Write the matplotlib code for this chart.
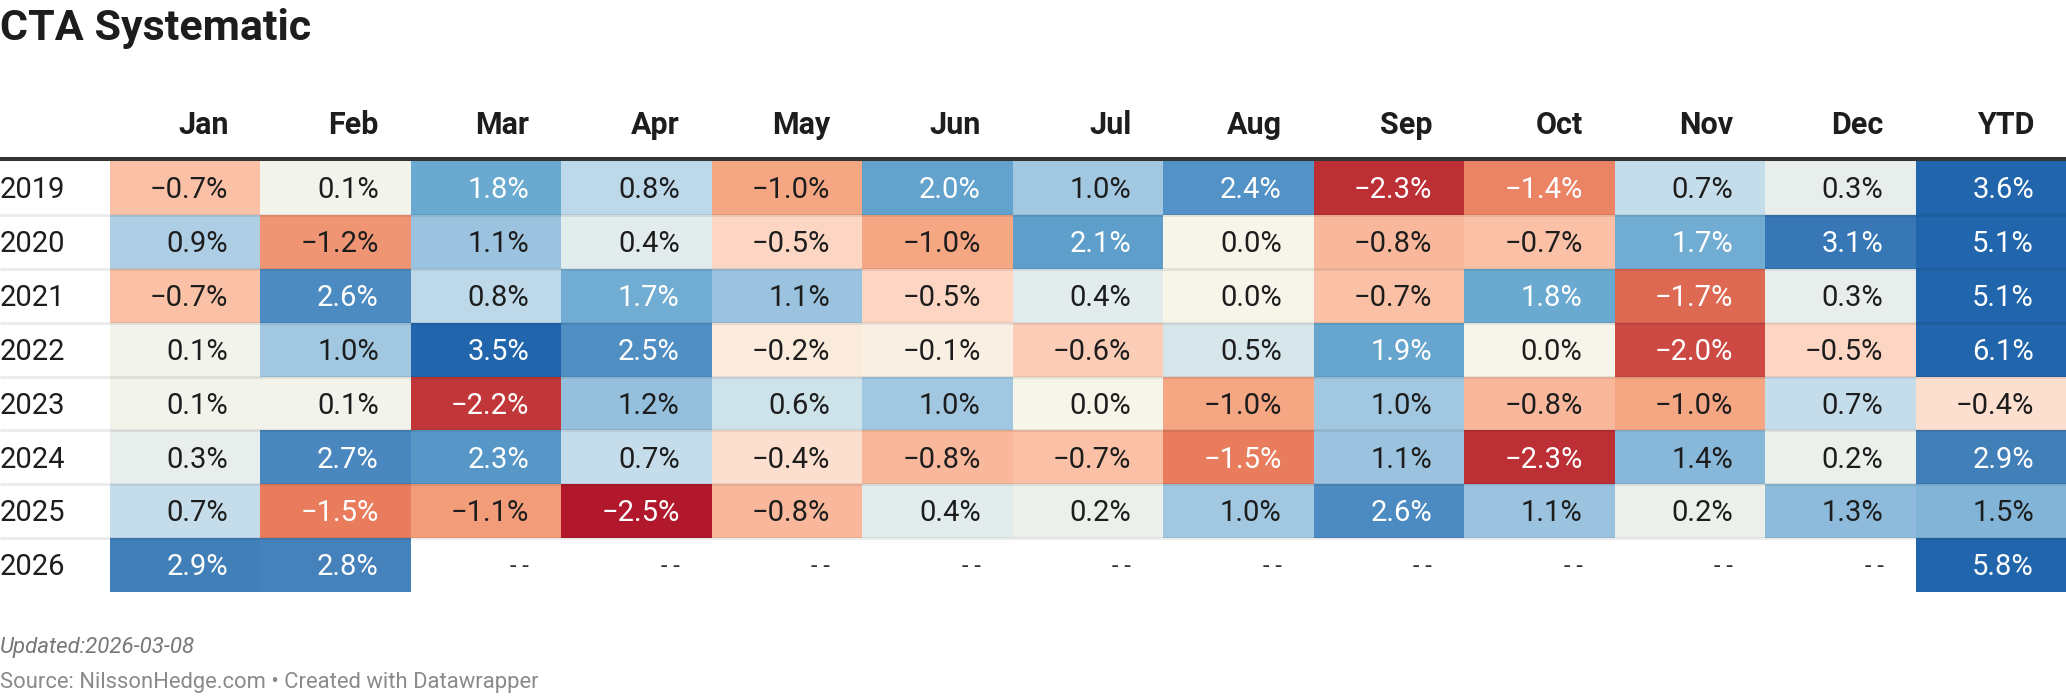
import numpy as np
import matplotlib
matplotlib.use("Agg")
import matplotlib.pyplot as plt
from matplotlib.colors import LinearSegmentedColormap, Normalize

plt.rcParams['font.family'] = ['Roboto', 'DejaVu Sans']

# data, monthly returns in %
months = ['Jan', 'Feb', 'Mar', 'Apr', 'May', 'Jun', 'Jul', 'Aug', 'Sep', 'Oct', 'Nov', 'Dec', 'YTD']
years = ['2019', '2020', '2021', '2022', '2023', '2024', '2025', '2026']
r2019 = [-0.7, 0.1, 1.8, 0.8, -1.0, 2.0, 1.0, 2.4, -2.3, -1.4, 0.7, 0.3, 3.6]
r2020 = [0.9, -1.2, 1.1, 0.4, -0.5, -1.0, 2.1, 0.0, -0.8, -0.7, 1.7, 3.1, 5.1]
r2021 = [-0.7, 2.6, 0.8, 1.7, 1.1, -0.5, 0.4, 0.0, -0.7, 1.8, -1.7, 0.3, 5.1]
r2022 = [0.1, 1.0, 3.5, 2.5, -0.2, -0.1, -0.6, 0.5, 1.9, 0.0, -2.0, -0.5, 6.1]
r2023 = [0.1, 0.1, -2.2, 1.2, 0.6, 1.0, 0.0, -1.0, 1.0, -0.8, -1.0, 0.7, -0.4]
r2024 = [0.3, 2.7, 2.3, 0.7, -0.4, -0.8, -0.7, -1.5, 1.1, -2.3, 1.4, 0.2, 2.9]
r2025 = [0.7, -1.5, -1.1, -2.5, -0.8, 0.4, 0.2, 1.0, 2.6, 1.1, 0.2, 1.3, 1.5]
r2026 = [2.9, 2.8, None, None, None, None, None, None, None, None, None, None, 5.8]

rows = [r2019, r2020, r2021, r2022, r2023, r2024, r2025, r2026]
vals = np.array([[np.nan if v is None else v for v in r] for r in rows])
data = np.ma.masked_invalid(vals)

# diverging scale, roughly Datawrapper's RdBu
lo, hi = -2.5, 3.5
stops = [(-2.5, '#b2182b'), (-2.3, '#bd3035'), (-2.0, '#cd4a43'), (-1.5, '#e97d5e'),
         (-1.0, '#f5a582'), (-0.7, '#fbc2a8'), (-0.4, '#fde0d0'), (0.0, '#f7f5e9'),
         (0.4, '#e2ecec'), (0.8, '#bcd8e9'), (1.0, '#a1c7e1'), (1.4, '#88b8d9'),
         (1.8, '#6aaad0'), (2.4, '#5393c6'), (2.9, '#427fb9'), (3.5, '#2166ac')]
cmap = LinearSegmentedColormap.from_list('dw', [((v - lo) / (hi - lo), c) for v, c in stops])
cmap.set_bad('white')
norm = Normalize(lo, hi, clip=True)

W, H = 2066, 696
fig = plt.figure(figsize=(W / 100, H / 100), dpi=100)
left_px, top_px, bot_px = 110, 161, 592
ax = fig.add_axes([left_px / W, 1 - bot_px / H, (W - left_px) / W, (bot_px - top_px) / H])
ax.pcolormesh(np.arange(len(months) + 1), np.arange(len(years) + 1), data,
              cmap=cmap, norm=norm, shading='flat')
ax.set_xlim(0, len(months))
ax.set_ylim(len(years), 0)
ax.axis('off')

col_px = (W - left_px) / len(months)
row_px = (bot_px - top_px) / len(years)
xl = -left_px / col_px
pad = 0.213

# row separators + header rule
for i in range(1, len(years)):
    ax.plot([xl, len(months)], [i, i], color=(0, 0, 0, 0.08), lw=2, clip_on=False,
            solid_capstyle='butt')
ax.plot([xl, len(months)], [-2 / row_px, -2 / row_px], color='#333333', lw=2.9,
        clip_on=False, solid_capstyle='butt')

for j, m in enumerate(months):
    ax.text(j + 1 - pad, -27 / row_px, m, ha='right', va='baseline', fontsize=22,
            fontweight='bold', color='#1d1d1d', clip_on=False)

for i, y in enumerate(years):
    ax.text(xl, i + 0.69, y, ha='left', va='baseline', fontsize=21,
            color='#1d1d1d', clip_on=False)
    for j in range(len(months)):
        v = vals[i, j]
        if np.isnan(v):
            ax.text(j + 1 - pad, i + 0.64, '- -', ha='right', va='baseline',
                    fontsize=17, color='#333333')
            continue
        txt = f'{v:.1f}%'.replace('-', '\u2212')
        light = v >= 1.7 or v <= -1.4
        ax.text(j + 1 - pad, i + 0.69, txt, ha='right', va='baseline', fontsize=21,
                color='white' if light else '#1d1d1d')

fig.text(0, 1 - 40 / H, 'CTA Systematic', fontsize=31, fontweight='bold',
         color='#1d1d1d', ha='left', va='baseline')
fig.text(0, 1 - 653 / H, 'Updated:2026-03-08', fontsize=16, style='italic',
         color='#777777', ha='left', va='baseline')
fig.text(0, 1 - 688 / H, 'Source: NilssonHedge.com \u2022 Created with Datawrapper',
         fontsize=15.8, color='#8a8a8a', ha='left', va='baseline')

fig.savefig('out.png', dpi=100, facecolor='white')
